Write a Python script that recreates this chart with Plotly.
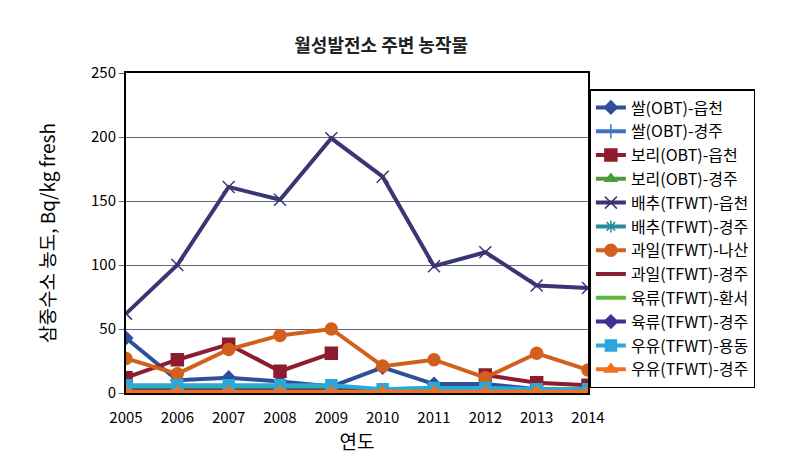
import plotly.graph_objects as go

years = [2005, 2006, 2007, 2008, 2009, 2010, 2011, 2012, 2013, 2014]

rice_eupcheon = [43, 10, 12, 9, 5, 20, 7, 7, 3, 3]
rice_gyeongju = [2, 2, 2, 2, 2, 2, 2, 2, 2, 2]
barley_eupcheon = [12, 26, 38, 17, 31, None, None, 14, 8, 6]
barley_gyeongju = [3, 3, 3, 3, 3, 2, 3, 3, 2, 2]
cabbage_eupcheon = [62, 100, 161, 151, 199, 169, 99, 110, 84, 82]
cabbage_gyeongju = [4, 4, 4, 4, 4, 3, 4, 4, 3, 3]
fruit_nasan = [27, 15, 34, 45, 50, 21, 26, 12, 31, 18]
fruit_gyeongju = [2, 2, 2, 2, 2, 2, 2, 2, 2, 2]
meat_hwanseo = [3, 3, 3, 3, 3, 3, 3, 3, 3, 3]
meat_gyeongju = [2, 2, 2, 2, 2, 2, 2, 2, 2, 2]
milk_yongdong = [6, 6, 6, 6, 6, 3, 4, 4, 3, 3]
milk_gyeongju = [1, 1, 1, 1, 1, 1, 1, 1, 1, 1]

series = [
    ('쌀(OBT)-읍천', rice_eupcheon, '#2f4f9a', 'diamond', 10),
    ('쌀(OBT)-경주', rice_gyeongju, '#3b72c4', 'line-ns', 10),
    ('보리(OBT)-읍천', barley_eupcheon, '#8e1c2e', 'square', 12),
    ('보리(OBT)-경주', barley_gyeongju, '#4f9a3a', 'triangle-up', 10),
    ('배추(TFWT)-읍천', cabbage_eupcheon, '#3a3674', 'x-thin', 12),
    ('배추(TFWT)-경주', cabbage_gyeongju, '#2b8aa0', 'asterisk', 10),
    ('과일(TFWT)-나산', fruit_nasan, '#d2601c', 'circle', 12),
    ('과일(TFWT)-경주', fruit_gyeongju, '#8b2035', None, 0),
    ('육류(TFWT)-환서', meat_hwanseo, '#5cb83a', None, 0),
    ('육류(TFWT)-경주', meat_gyeongju, '#3d3190', 'diamond', 10),
    ('우유(TFWT)-용동', milk_yongdong, '#2aa8d8', 'square', 11),
    ('우유(TFWT)-경주', milk_gyeongju, '#f07020', 'triangle-up', 11),
]

fig = go.Figure()
for name, vals, col, sym, sz in series:
    if sym is None:
        fig.add_trace(go.Scatter(x=years, y=vals, name=name, mode='lines',
                                 line=dict(color=col, width=4)))
    else:
        fig.add_trace(go.Scatter(x=years, y=vals, name=name, mode='lines+markers',
                                 line=dict(color=col, width=4),
                                 marker=dict(symbol=sym, size=sz, color=col,
                                             line=dict(color=col, width=1.5))))

fig.update_layout(
    width=794, height=464,
    font=dict(family='Noto Sans CJK KR', color='black'),
    plot_bgcolor='white', paper_bgcolor='white',
    margin=dict(l=118, r=214, t=65, b=79),
    title=dict(text='<b>월성발전소 주변 농작물</b>', x=0.47, xanchor='center',
               y=1 - 38 / 464, yanchor='middle', font=dict(size=18, color='#222')),
    xaxis=dict(range=[2005, 2014], tickmode='array', tickvals=years,
               tickfont=dict(size=15), showgrid=False, zeroline=False,
               showline=True, linecolor='black', linewidth=2, mirror=True,
               ticks='outside', ticklen=10, tickcolor='rgba(0,0,0,0)',
               title=dict(text='연도', font=dict(size=19), standoff=10)),
    yaxis=dict(range=[0, 250], dtick=50, tickfont=dict(size=15),
               showgrid=True, gridcolor='#5a6b80', gridwidth=1, zeroline=False,
               showline=True, linecolor='black', linewidth=2, mirror=True,
               ticks='outside', tickcolor='#5a6b80', ticklen=5,
               title=dict(text='삼중수소 농도, Bq/kg fresh', font=dict(size=19), standoff=30)),
    legend=dict(x=1.003, xanchor='left', y=0.95, yanchor='top',
                bordercolor='black', borderwidth=1.5, font=dict(size=16),
                tracegroupgap=0, itemwidth=30),
)

fig.write_html("out.html")
